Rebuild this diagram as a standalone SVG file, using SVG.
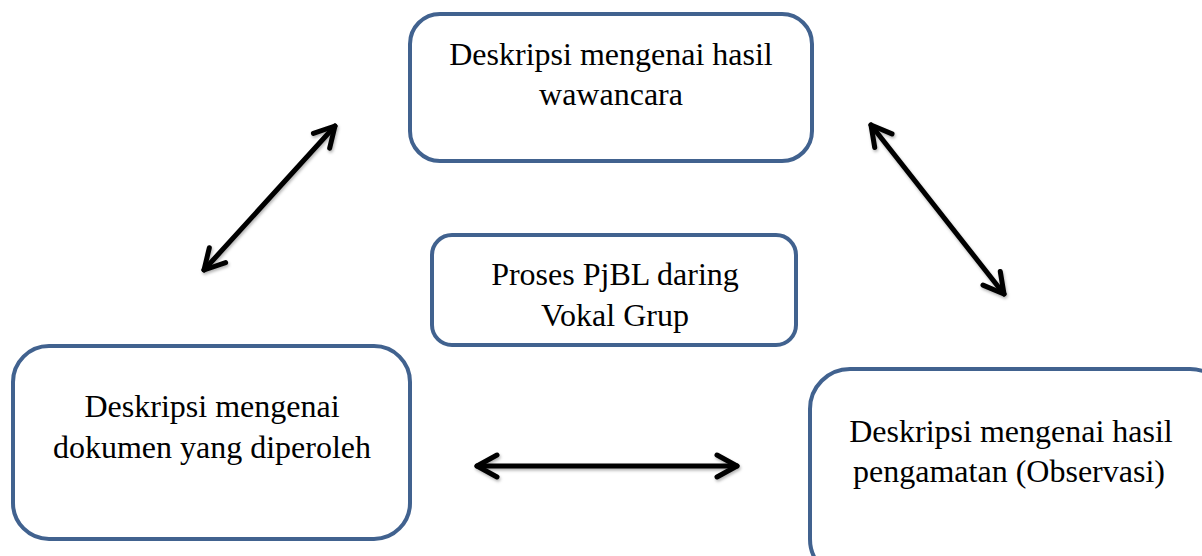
<svg xmlns="http://www.w3.org/2000/svg" width="1202" height="556" viewBox="0 0 1202 556">
<style>
.box{fill:#ffffff;stroke:#41628f;stroke-width:4}
.t{font-family:"Liberation Serif","Times New Roman",serif;font-size:32px;fill:#000;text-anchor:middle}
.arr{stroke:#000;stroke-width:5;fill:none;stroke-linecap:round;marker-start:url(#head);marker-end:url(#head)}
</style>
<defs>
<marker id="head" markerUnits="userSpaceOnUse" viewBox="-30 -20 40 40" refX="0" refY="0" markerWidth="40" markerHeight="40" orient="auto-start-reverse" overflow="visible">
<path d="M-20 -11 L0 0 L-20 11" fill="none" stroke="#000" stroke-width="5" stroke-linecap="round" stroke-linejoin="round"/>
</marker>
<filter id="sh" filterUnits="userSpaceOnUse" x="0" y="0" width="1202" height="556">
<feDropShadow dx="1" dy="2" stdDeviation="1.5" flood-color="#000" flood-opacity="0.3"/>
</filter>
</defs>
<g id="connectors" filter="url(#sh)">
<line class="arr" x1="204" y1="270" x2="335" y2="126"/>
<line class="arr" x1="871" y1="125" x2="1004" y2="294"/>
<line class="arr" x1="477" y1="466" x2="737" y2="466"/>
</g>
<g id="node-wawancara">
<rect class="box" x="410" y="14" width="402" height="147" rx="30"/>
<text class="t" x="611" y="65">Deskripsi mengenai hasil</text>
<text class="t" x="611" y="105">wawancara</text>
</g>
<g id="node-proses">
<rect class="box" x="432" y="235" width="364" height="110" rx="20"/>
<text class="t" x="615" y="285">Proses PjBL daring</text>
<text class="t" x="615" y="326">Vokal Grup</text>
</g>
<g id="node-dokumen">
<rect class="box" x="13" y="346" width="397" height="193" rx="36"/>
<text class="t" x="212" y="417">Deskripsi mengenai</text>
<text class="t" x="212" y="458">dokumen yang diperoleh</text>
</g>
<g id="node-observasi">
<rect class="box" x="810" y="369" width="420" height="210" rx="40"/>
<text class="t" x="1011" y="442">Deskripsi mengenai hasil</text>
<text class="t" x="1009" y="482">pengamatan (Observasi)</text>
</g>
</svg>
